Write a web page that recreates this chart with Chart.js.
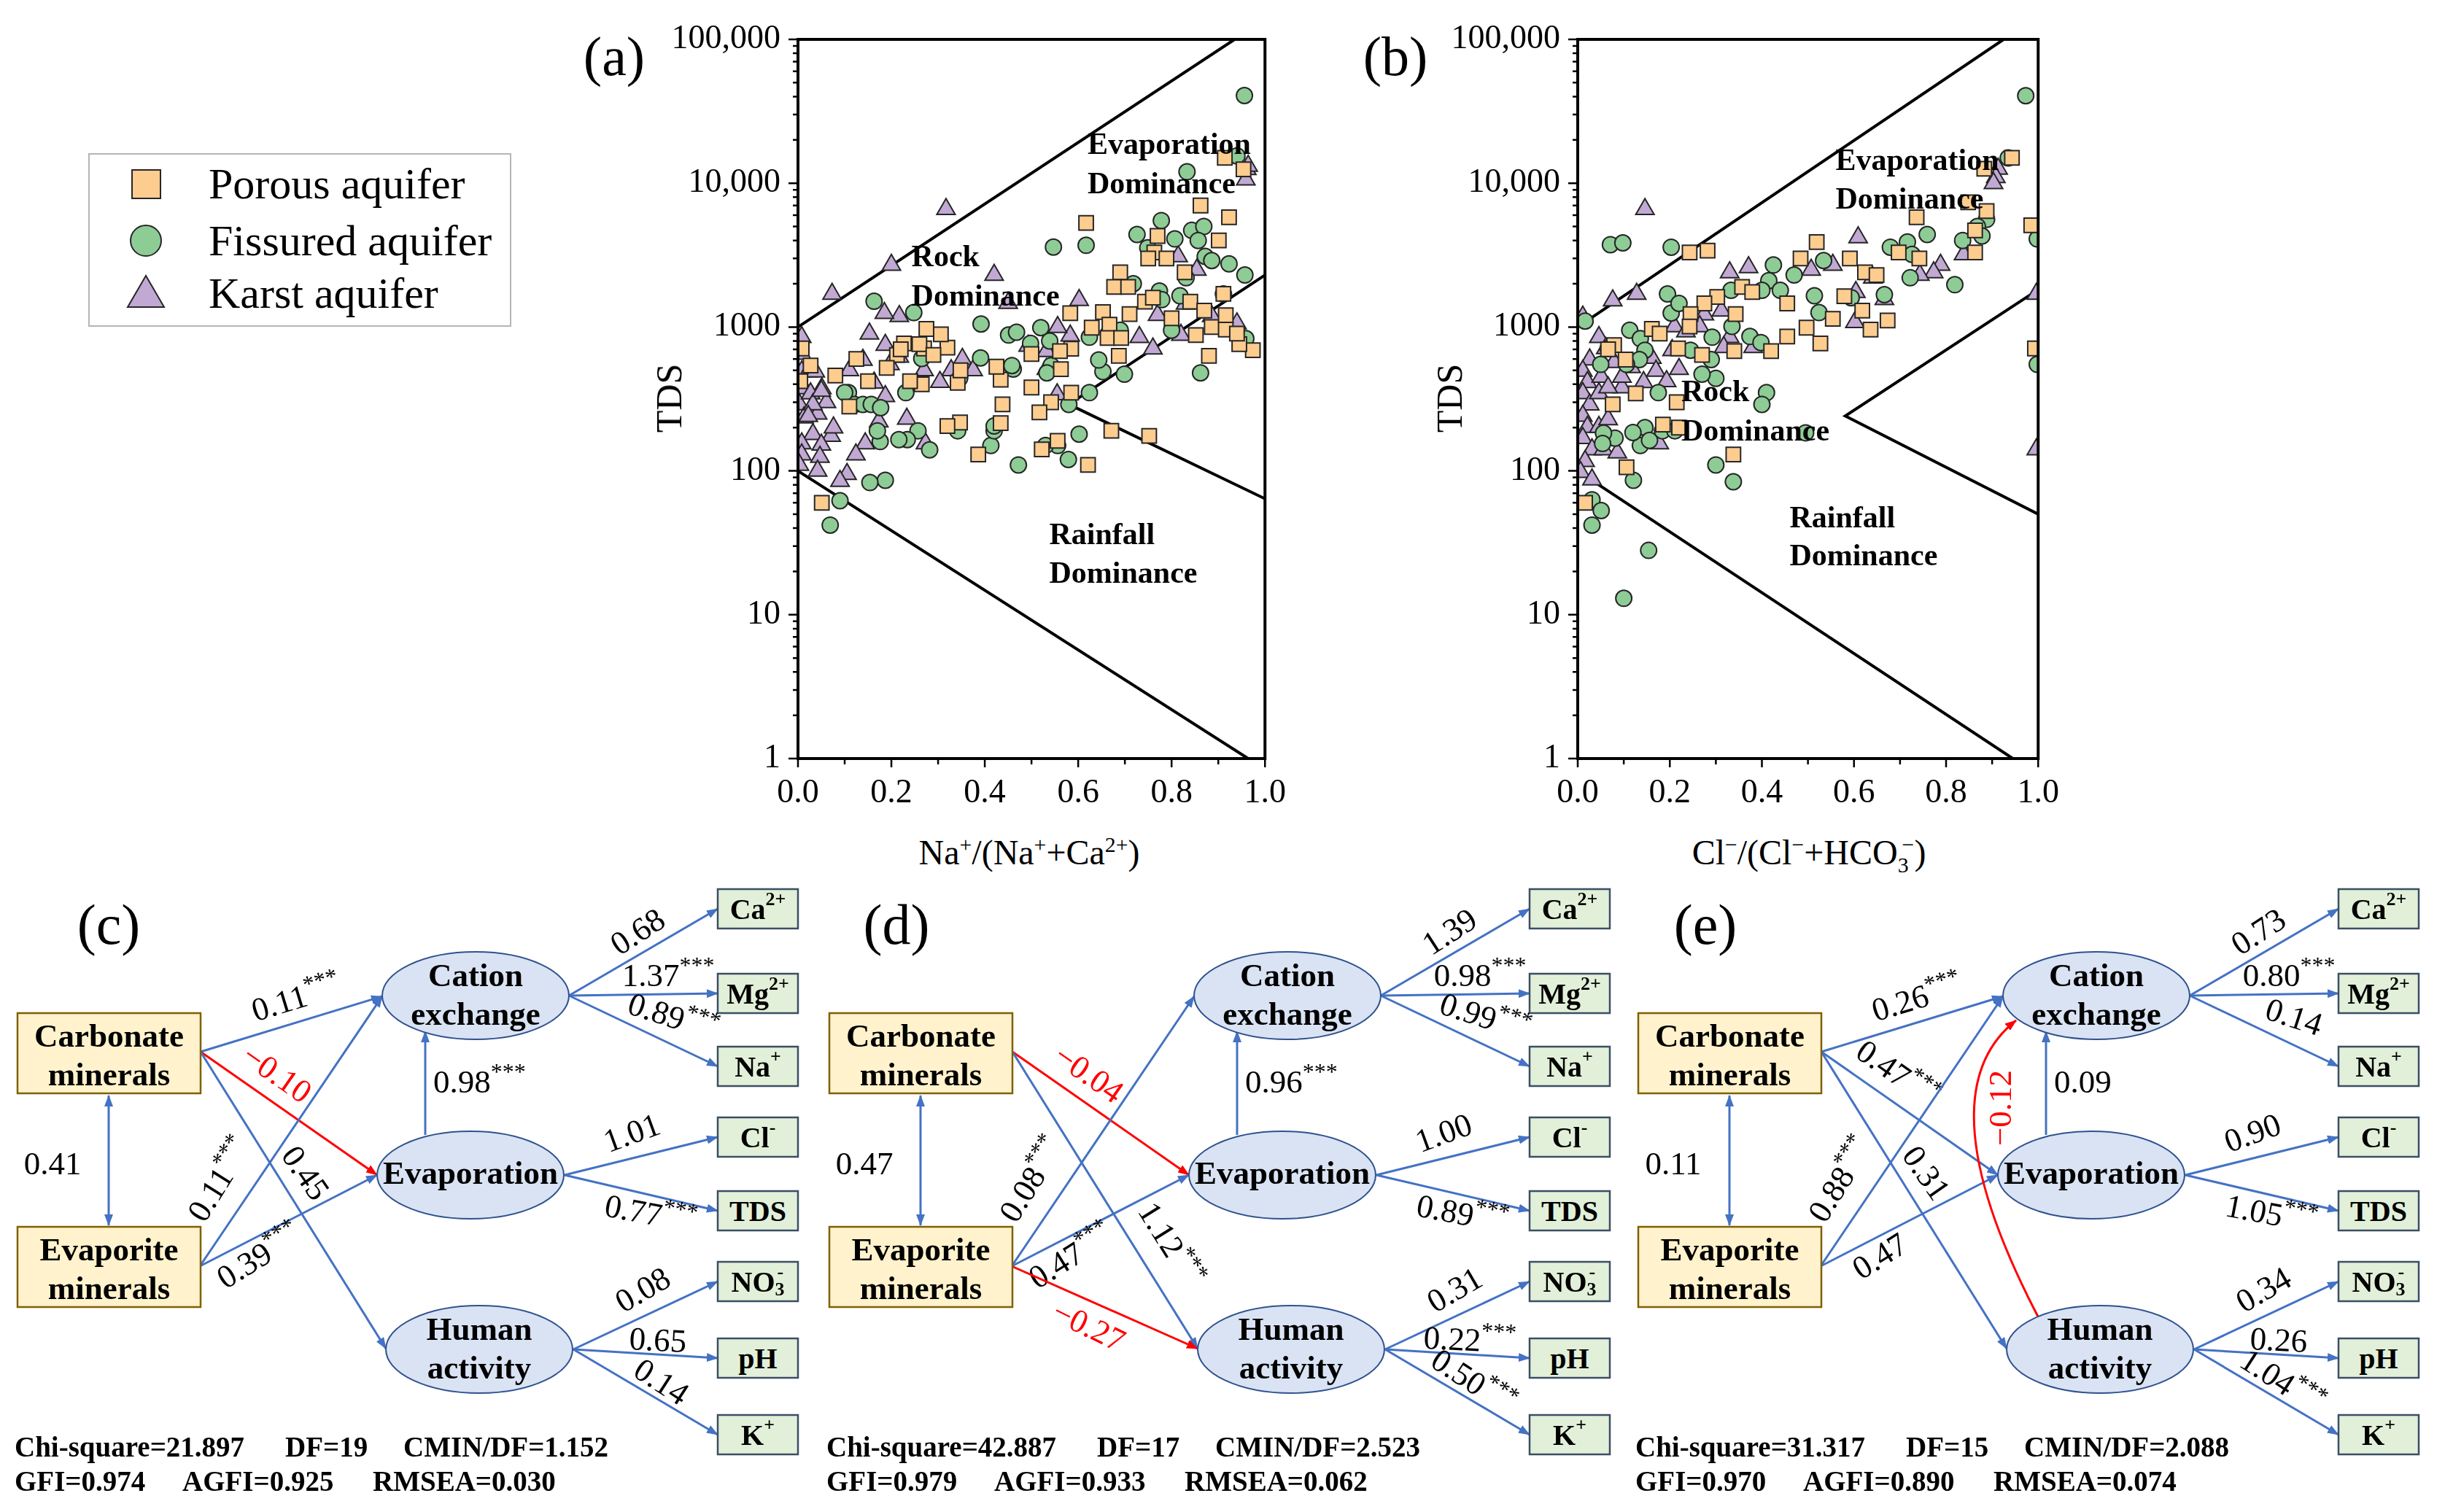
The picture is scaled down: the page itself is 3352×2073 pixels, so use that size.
<!DOCTYPE html>
<html>
<head>
<meta charset="utf-8">
<script src="https://cdn.jsdelivr.net/npm/chart.js@4.4.1/dist/chart.umd.min.js"></script>
<style>
html, body { margin: 0; padding: 0; background: #fff; }
#page { position: relative; width: 3352px; height: 2073px; overflow: hidden; background: #fff;
        font-family: 'Liberation Serif', 'Times New Roman', serif; }
canvas { position: absolute; top: 0; }
.t { position: absolute; white-space: nowrap; color: #000; line-height: 1; transform: translate(-50%, -50%); }
.t sup, .t sub { font-size: 62%; line-height: 0; }
</style>
</head>
<body>
<div id="page">
  <canvas id="gibbsA"></canvas>
  <canvas id="gibbsB"></canvas>
  <div class="t" style="left:842px;top:77px;font-size:76px">(a)</div>
  <div class="t" style="left:1913px;top:77px;font-size:76px">(b)</div>
  <div class="t" style="left:917px;top:546px;font-size:50px;transform:translate(-50%,-50%) rotate(-90deg)">TDS</div>
  <div class="t" style="left:1987px;top:546px;font-size:50px;transform:translate(-50%,-50%) rotate(-90deg)">TDS</div>
  <div class="t" style="left:1411px;top:1169px;font-size:48px">Na<sup>+</sup>/(Na<sup>+</sup>+Ca<sup>2+</sup>)</div>
  <div class="t" style="left:2480px;top:1169px;font-size:48px">Cl<sup>&minus;</sup>/(Cl<sup>&minus;</sup>+HCO<sub>3</sub><sup style="margin-left:-0.3em">&minus;</sup>)</div>
  <svg id="sem" width="3352" height="2073" style="position:absolute;left:0;top:0"
       font-family="'Liberation Serif', 'Times New Roman', serif"></svg>
</div>
<script>
// ---------- Gibbs diagram data (x = ratio, y = TDS) ----------
const xMajorTicks = [0, 0.2, 0.4, 0.6, 0.8, 1.0];
const xMinorTicks = [0.1, 0.3, 0.5, 0.7, 0.9];
const yMajorTicks = [1, 10, 100, 1000, 10000, 100000];
const yMinorSteps = [2, 3, 4, 5, 6, 7, 8, 9];

const seriesNames = ['Porous aquifer', 'Fissured aquifer', 'Karst aquifer'];

// (a) Na+/(Na+ + Ca2+)
const porousA = [[0.914,15000],[0.954,12500],[0.862,7000],[0.923,5800],[0.617,5300],[0.901,4000],[0.77,4300],[0.763,3300],[0.75,3000],[0.789,3000],[0.828,2400],[0.69,2400],[0.677,1900],[0.707,1900],[0.743,1500],[0.76,1600],[0.911,1700],[0.653,1270],[0.583,1250],[0.629,990],[0.667,1040],[0.663,840],[0.692,840],[0.585,707],[0.561,680],[0.563,510],[0.50,380],[0.542,300],[0.517,255],[0.585,350],[0.687,630],[0.88,630],[0.852,880],[0.886,1000],[0.916,960],[0.974,690],[0.945,760],[0.916,1210],[0.621,110],[0.671,190],[0.752,175],[0.556,162],[0.522,141],[0.438,290],[0.434,430],[0.425,530],[0.434,215],[0.347,217],[0.32,205],[0.386,130],[0.342,410],[0.348,500],[0.32,720],[0.306,890],[0.275,970],[0.27,710],[0.265,400],[0.227,770],[0.212,640],[0.125,600],[0.11,280],[0.08,460],[0.051,60],[0.008,710],[0.027,540],[0.22,700],[0.26,760],[0.29,640],[0.24,420],[0.15,420],[0.19,520],[0.005,420],[0.71,1230],[0.8,1150],[0.84,1500],[0.87,1300],[0.94,900],[0.5,650]];
const fissuredA = [[0.956,40700],[0.94,15500],[0.833,12000],[0.547,3600],[0.617,3700],[0.726,4400],[0.749,3560],[0.778,5500],[0.807,4100],[0.843,4700],[0.869,5000],[0.857,4000],[0.872,3100],[0.886,2900],[0.923,2750],[0.957,2300],[0.831,2200],[0.718,2000],[0.774,1780],[0.818,1650],[0.779,1550],[0.911,1700],[0.80,950],[0.959,830],[0.862,480],[0.699,470],[0.653,490],[0.624,350],[0.58,290],[0.602,180],[0.579,120],[0.556,150],[0.53,150],[0.472,110],[0.413,150],[0.42,190],[0.42,205],[0.342,190],[0.257,190],[0.234,165],[0.216,165],[0.187,86],[0.154,83],[0.176,160],[0.17,190],[0.09,62],[0.069,42],[0.108,350],[0.231,350],[0.265,605],[0.391,610],[0.392,1050],[0.451,880],[0.461,510],[0.458,540],[0.498,770],[0.52,990],[0.539,800],[0.624,850],[0.69,950],[0.644,590],[0.542,540],[0.533,480],[0.346,440],[0.163,1510],[0.248,1260],[0.121,290],[0.139,290],[0.157,290],[0.177,275],[0.282,140],[0.10,350],[0.468,920]];
const karstA = [[0.317,6600],[0.20,2700],[0.42,2300],[0.073,1700],[0.602,1540],[0.961,12500],[0.959,10600],[0.964,13200],[0.814,3100],[0.854,2500],[0.83,1450],[0.886,1190],[0.94,1060],[0.77,1210],[0.76,707],[0.731,850],[0.82,880],[0.667,1010],[0.583,870],[0.556,1000],[0.493,740],[0.532,680],[0.532,510],[0.555,340],[0.45,1470],[0.352,600],[0.375,500],[0.328,500],[0.304,415],[0.27,500],[0.255,400],[0.233,230],[0.273,155],[0.217,1190],[0.185,1250],[0.153,900],[0.11,500],[0.139,590],[0.163,410],[0.187,750],[0.197,550],[0.217,620],[0.187,330],[0.173,220],[0.144,155],[0.124,130],[0.105,95],[0.09,85],[0.071,175],[0.076,200],[0.051,375],[0.061,300],[0.042,250],[0.032,180],[0.05,152],[0.047,125],[0.042,100],[0.008,850],[0.008,650],[0.008,490],[0.013,375],[0.003,290],[0.013,235],[0.008,155],[0.008,130],[0.003,110],[0.022,490],[0.027,345],[0.032,290],[0.022,240],[0.037,490],[0.05,360]];
const upperA = [[0, 1000], [0.935, 100000]];
const lowerA = [[0, 100], [0.964, 1]];
const innerA = [[1, 2300], [0.58, 290], [1, 64]];

// (b) Cl-/(Cl- + HCO3-)
const porousB = [[0.943,15000],[0.883,12600],[0.848,7360],[0.888,6400],[0.736,5800],[0.985,5100],[0.863,4700],[0.863,3300],[0.519,3900],[0.484,3000],[0.591,3000],[0.624,2400],[0.649,2300],[0.742,3000],[0.697,3300],[0.282,3400],[0.243,3300],[0.579,1640],[0.618,1300],[0.673,1110],[0.636,960],[0.554,1140],[0.455,1460],[0.455,860],[0.497,990],[0.527,770],[0.357,1900],[0.379,1750],[0.303,1620],[0.275,1460],[0.343,1230],[0.245,1230],[0.243,1010],[0.161,970],[0.178,900],[0.218,710],[0.27,640],[0.34,680],[0.42,680],[0.079,750],[0.066,700],[0.104,594],[0.126,346],[0.076,290],[0.215,300],[0.185,210],[0.22,200],[0.106,106],[0.338,130],[0.016,60],[0.993,710]];
const fissuredB = [[0.973,40600],[0.935,15000],[0.888,5600],[0.868,5000],[0.878,4300],[0.836,4000],[0.759,4400],[0.716,3900],[0.726,3200],[0.679,3590],[0.722,2200],[0.819,1970],[0.534,2900],[0.47,2300],[0.425,2700],[0.415,2100],[0.44,1800],[0.514,1650],[0.524,1260],[0.594,1600],[0.666,1680],[0.40,1800],[0.333,1800],[0.195,1700],[0.203,1250],[0.22,1460],[0.203,3590],[0.071,3740],[0.098,3850],[0.016,1100],[0.113,950],[0.136,830],[0.146,690],[0.134,594],[0.05,550],[0.245,690],[0.29,594],[0.30,440],[0.292,850],[0.335,1010],[0.374,860],[0.398,780],[0.41,350],[0.40,290],[0.27,470],[0.175,350],[0.146,200],[0.136,150],[0.156,163],[0.12,185],[0.184,190],[0.211,190],[0.081,169],[0.056,183],[0.054,155],[0.30,110],[0.121,86],[0.338,84],[0.495,184],[0.031,63],[0.051,53],[0.031,42],[0.154,28],[0.10,13],[0.998,4100],[0.998,550],[0.066,710],[0.106,550]];
const karstB = [[0.146,6600],[0.609,4200],[0.838,3200],[0.788,2700],[0.773,2400],[0.743,2300],[0.554,2700],[0.507,2500],[0.371,2600],[0.33,2400],[0.913,12600],[0.908,11000],[0.903,10000],[0.641,2200],[0.666,1560],[0.604,1750],[0.602,1080],[0.996,1700],[0.996,141],[0.312,1300],[0.275,1220],[0.381,725],[0.33,850],[0.317,725],[0.128,1700],[0.076,1530],[0.011,1180],[0.046,850],[0.061,711],[0.079,570],[0.116,525],[0.161,610],[0.205,690],[0.21,1010],[0.235,930],[0.265,1010],[0.17,496],[0.143,414],[0.193,420],[0.22,510],[0.096,380],[0.026,594],[0.011,496],[0.021,414],[0.011,346],[0.026,289],[0.011,241],[0.021,202],[0.011,169],[0.031,141],[0.016,117],[0.006,98],[0.031,87],[0.046,202],[0.066,228],[0.056,141],[0.086,134],[0.177,155],[0.051,450],[0.046,346],[0.066,380],[0.096,450]];
const upperB = [[0, 1000], [0.925, 100000]];
const lowerB = [[0, 100], [0.945, 1]];
const innerB = [[1, 1820], [0.581, 241], [1, 50]];

// region names, anchored at (x, TDS)
const regionsA = [['Evaporation', 0.62, 18200], ['Dominance', 0.62, 9700], ['Rock', 0.243, 3010],
                  ['Dominance', 0.243, 1600], ['Rainfall', 0.538, 35], ['Dominance', 0.538, 19]];
const regionsB = [['Evaporation', 0.56, 14000], ['Dominance', 0.56, 7600], ['Rock', 0.225, 345],
                  ['Dominance', 0.225, 185], ['Rainfall', 0.46, 46], ['Dominance', 0.46, 25]];

const ORANGE = '#FDCC8F', GREEN = '#8ECC96', PURPLE = '#C1A9D4', EDGE = '#262626';
const tickFont = { family: "'Liberation Serif', serif", size: 46 };

const pts = arr => arr.map(p => ({ x: p[0], y: p[1] }));

const gibbsFrame = {
  id: 'gibbsFrame',
  afterDatasetsDraw(chart, args, opts) {
    const { ctx, chartArea: a, scales: { x, y } } = chart;
    ctx.save();
    ctx.font = "bold 42px 'Liberation Serif', serif";
    ctx.fillStyle = '#000';
    ctx.textBaseline = 'middle';
    opts.regions.forEach(r => ctx.fillText(r[0], x.getPixelForValue(r[1]), y.getPixelForValue(r[2])));
    ctx.strokeStyle = '#000';
    ctx.lineWidth = 4;
    ctx.strokeRect(a.left, a.top, a.right - a.left, a.bottom - a.top);
    ctx.lineWidth = 2.5;
    ctx.beginPath();
    yMajorTicks.forEach(v => { const py = y.getPixelForValue(v); ctx.moveTo(a.left - 13, py); ctx.lineTo(a.left, py); });
    yMajorTicks.slice(0, -1).forEach(d => yMinorSteps.forEach(m => {
      const py = y.getPixelForValue(d * m); ctx.moveTo(a.left - 7, py); ctx.lineTo(a.left, py);
    }));
    xMajorTicks.forEach(v => { const px = x.getPixelForValue(v); ctx.moveTo(px, a.bottom); ctx.lineTo(px, a.bottom + 12); });
    xMinorTicks.forEach(v => { const px = x.getPixelForValue(v); ctx.moveTo(px, a.bottom); ctx.lineTo(px, a.bottom + 8); });
    ctx.stroke();
    ctx.restore();
  }
};

function makeGibbs(id, plotLeft, plotRight, porous, fissured, karst, upper, lower, inner, regions) {
  const yAxisWidth = 313;
  const canvas = document.getElementById(id);
  const left = plotLeft - yAxisWidth;
  canvas.style.left = left + 'px';
  canvas.width = plotRight - left + 40;
  canvas.height = 1120;
  const boundary = data => ({ type: 'line', data: pts(data), showLine: true, borderColor: '#000',
                              borderWidth: 4, pointRadius: 0, fill: false, tension: 0 });
  return new Chart(canvas, {
    type: 'scatter',
    data: {
      datasets: [
        { label: seriesNames[0], data: pts(porous), pointStyle: 'rect', pointRadius: 14,
          backgroundColor: ORANGE, borderColor: EDGE, borderWidth: 2 },
        { label: seriesNames[1], data: pts(fissured), pointStyle: 'circle', pointRadius: 11,
          backgroundColor: GREEN, borderColor: EDGE, borderWidth: 2 },
        { label: seriesNames[2], data: pts(karst), pointStyle: 'triangle', pointRadius: 14.5,
          backgroundColor: PURPLE, borderColor: EDGE, borderWidth: 2 },
        boundary(upper), boundary(lower), boundary(inner)
      ]
    },
    options: {
      responsive: false, animation: false, devicePixelRatio: 1,
      layout: { padding: { top: 54, right: 40, left: 0, bottom: 0 } },
      plugins: { legend: { display: false }, tooltip: { enabled: false }, gibbsFrame: { regions } },
      scales: {
        x: {
          type: 'linear', min: 0, max: 1,
          afterBuildTicks: s => { s.ticks = xMajorTicks.map(v => ({ value: v })); },
          afterFit: s => { s.height = 80; },
          ticks: { font: tickFont, color: '#000', padding: 20, maxRotation: 0, callback: v => v.toFixed(1) },
          grid: { display: false, drawTicks: false }, border: { display: false }
        },
        y: {
          type: 'logarithmic', min: 1, max: 100000,
          afterBuildTicks: s => { s.ticks = yMajorTicks.map(v => ({ value: v })); },
          afterFit: s => { s.width = yAxisWidth; },
          ticks: { font: tickFont, color: '#000', padding: 24,
                   callback: v => v >= 10000 ? v.toLocaleString('en-US') : String(v) },
          grid: { display: false, drawTicks: false }, border: { display: false }
        }
      }
    },
    plugins: [gibbsFrame]
  });
}

makeGibbs('gibbsA', 1094, 1743, porousA, fissuredA, karstA, upperA, lowerA, innerA, regionsA);
makeGibbs('gibbsB', 2163, 2803, porousB, fissuredB, karstB, upperB, lowerB, innerB, regionsB);

// ---------- SEM path diagrams (c), (d), (e) ----------
const panelTags = ['(c)', '(d)', '(e)'];
const panelTagX = [149, 1229, 2338];
const panelShift = [0, 1113, 2222];
const covariances = ['0.41', '0.47', '0.11'];
const structural = [
  [['carb', 'cat', '0.11***'], ['carb', 'eva', '\u22120.10'], ['carb', 'hum', '0.45'],
   ['evapo', 'cat', '0.11***'], ['evapo', 'eva', '0.39***'], ['eva', 'cat', '0.98***']],
  [['carb', 'eva', '\u22120.04'], ['carb', 'hum', '1.12***'], ['evapo', 'cat', '0.08***'],
   ['evapo', 'eva', '0.47***'], ['evapo', 'hum', '\u22120.27'], ['eva', 'cat', '0.96***']],
  [['carb', 'cat', '0.26***'], ['carb', 'eva', '0.47***'], ['carb', 'hum', '0.31'],
   ['evapo', 'cat', '0.88***'], ['evapo', 'eva', '0.47'], ['eva', 'cat', '0.09'], ['hum', 'cat', '\u22120.12']]
];
const loadings = [
  ['0.68', '1.37***', '0.89***', '1.01', '0.77***', '0.08', '0.65', '0.14'],
  ['1.39', '0.98***', '0.99***', '1.00', '0.89***', '0.31', '0.22***', '0.50***'],
  ['0.73', '0.80***', '0.14', '0.90', '1.05***', '0.34', '0.26', '1.04***']
];
const fitStats = [
  ['Chi-square=21.897', 'DF=19', 'CMIN/DF=1.152', 'GFI=0.974', 'AGFI=0.925', 'RMSEA=0.030'],
  ['Chi-square=42.887', 'DF=17', 'CMIN/DF=2.523', 'GFI=0.979', 'AGFI=0.933', 'RMSEA=0.062'],
  ['Chi-square=31.317', 'DF=15', 'CMIN/DF=2.088', 'GFI=0.970', 'AGFI=0.890', 'RMSEA=0.074']
];
const indicators = [['Ca', '2+'], ['Mg', '2+'], ['Na', '+'], ['Cl', '-'], ['TDS', ''], ['NO', '-', '3'], ['pH', ''], ['K', '+']];

// layout (panel-relative pixels)
const BLUE = '#4472C4', RED = '#FF0000';
const L = {
  carbBox: [24, 1389, 251, 110], evapoBox: [24, 1682, 251, 110],
  latent: { cat: [652, 1365, ['Cation', 'exchange']], eva: [645, 1611, ['Evaporation']], hum: [657, 1850, ['Human', 'activity']] },
  from: { carb: [275, 1442], evapo: [274, 1736], eva: [583, 1556] },
  to: { cat: [524, 1366], eva: [517, 1611], hum: [529, 1849], catFromEva: [583, 1414] },
  out: { cat: [780, 1365], eva: [774, 1611], hum: [786, 1850] },
  indBoxX: 984, indBoxW: 110, indBoxH: 54,
  indY: [1246, 1362, 1462, 1559, 1660, 1757, 1862, 1967],
  indFrom: ['cat', 'cat', 'cat', 'eva', 'eva', 'hum', 'hum', 'hum'],
  indLabel: [[874, 1277, -33], [916, 1337, 0], [923, 1394, 18], [866, 1553, -20], [892, 1664, 11], [881, 1768, -30], [902, 1837, 3], [907, 1894, 33]],
  pathLabel: { 'carb-cat': [406, 1368, -17], 'carb-eva': [380, 1472, 35], 'carb-hum': [419, 1608, 55],
               'carb-hum-d': [492, 1706, 58], 'evapo-cat': [301, 1617, -58], 'evapo-eva': [355, 1722, -32],
               'evapo-hum': [380, 1818, 26], 'hum-cat': [520, 1519, -90] },
  evaCatLabel: [594, 1483],
  statsX: [[20, 391, 553], [20, 250, 511]], statsY: [1997, 2044]
};

const NS = 'http://www.w3.org/2000/svg';
const svg = document.getElementById('sem');
function el(tag, attrs, parent, text) {
  const e = document.createElementNS(NS, tag);
  for (const k in attrs) e.setAttribute(k, attrs[k]);
  if (text !== undefined) e.textContent = text;
  (parent || svg).appendChild(e);
  return e;
}

const defs = el('defs', {});
[['arrBlue', BLUE], ['arrRed', RED]].forEach(([id, col]) => {
  const m = el('marker', { id, viewBox: '0 0 16 12', refX: 15, refY: 6, markerWidth: 16, markerHeight: 12,
                           markerUnits: 'userSpaceOnUse', orient: 'auto-start-reverse' }, defs);
  el('path', { d: 'M0,0 L16,6 L0,12 Z', fill: col }, m);
});

function arrow(g, x1, y1, x2, y2, col, both) {
  const a = { x1, y1, x2, y2, stroke: col, 'stroke-width': 3,
              'marker-end': `url(#${col === RED ? 'arrRed' : 'arrBlue'})` };
  if (both) a['marker-start'] = 'url(#arrBlue)';
  el('line', a, g);
}

function coef(g, str, x, y, angle, anchor) {
  const neg = str.charAt(0) === '\u2212';
  const num = str.split('*')[0];
  const stars = str.slice(num.length);
  const t = el('text', { x, y, 'font-size': 45, 'text-anchor': anchor || 'middle', 'dominant-baseline': 'central',
                         fill: neg ? RED : '#000', transform: `rotate(${angle} ${x} ${y})` }, g);
  el('tspan', {}, t, num);
  if (stars) el('tspan', { 'font-size': 32, dy: -14 }, t, stars);
}

panelTags.forEach((tag, p) => {
  const g = el('g', { transform: `translate(${panelShift[p]},0)` });
  el('text', { x: panelTagX[p] - panelShift[p], y: 1267, 'font-size': 78, 'text-anchor': 'middle',
               'dominant-baseline': 'central' }, g, tag);

  // covariance between the two mineral groups
  arrow(g, 149, 1502, 149, 1680, BLUE, true);
  coef(g, covariances[p], 72, 1595, 0);

  // structural paths
  structural[p].forEach(([a, b, val]) => {
    const col = val.charAt(0) === '\u2212' ? RED : BLUE;
    if (a === 'hum') {
      el('path', { d: 'M572,1805 Q413,1500 542,1399', fill: 'none', stroke: col, 'stroke-width': 3,
                   'marker-end': 'url(#arrRed)' }, g);
    } else {
      const s = L.from[a];
      const e = a === 'eva' ? L.to.catFromEva : L.to[b];
      arrow(g, s[0], s[1], e[0], e[1], col);
    }
    if (a === 'eva') {
      coef(g, val, L.evaCatLabel[0], L.evaCatLabel[1], 0, 'start');
    } else {
      let key = a + '-' + b;
      if (key === 'carb-hum' && p === 1) key = 'carb-hum-d';
      const lp = L.pathLabel[key];
      coef(g, val, lp[0], lp[1], lp[2]);
    }
  });

  // measurement paths to indicators
  indicators.forEach((ind, i) => {
    const s = L.out[L.indFrom[i]];
    arrow(g, s[0], s[1], L.indBoxX, L.indY[i], BLUE);
  });

  // observed mineral boxes
  [[L.carbBox, 'Carbonate'], [L.evapoBox, 'Evaporite']].forEach(([b, name]) => {
    el('rect', { x: b[0], y: b[1], width: b[2], height: b[3], fill: '#FFF2CC', stroke: '#7F6000', 'stroke-width': 2.5 }, g);
    const cx = b[0] + b[2] / 2;
    el('text', { x: cx, y: b[1] + 31, 'font-size': 45, 'font-weight': 'bold', 'text-anchor': 'middle', 'dominant-baseline': 'central' }, g, name);
    el('text', { x: cx, y: b[1] + 84, 'font-size': 45, 'font-weight': 'bold', 'text-anchor': 'middle', 'dominant-baseline': 'central' }, g, 'minerals');
  });

  // latent variables
  Object.values(L.latent).forEach(([cx, cy, lines]) => {
    el('ellipse', { cx, cy, rx: 128, ry: 60, fill: '#DAE3F3', stroke: '#2F528F', 'stroke-width': 2 }, g);
    lines.forEach((ln, k) => {
      const yy = lines.length === 1 ? cy - 3 : cy - 28 + k * 53;
      el('text', { x: cx, y: yy, 'font-size': 45, 'font-weight': 'bold', 'text-anchor': 'middle', 'dominant-baseline': 'central' }, g, ln);
    });
  });

  // indicator boxes and their loadings
  indicators.forEach((ind, i) => {
    const y = L.indY[i];
    el('rect', { x: L.indBoxX, y: y - L.indBoxH / 2, width: L.indBoxW, height: L.indBoxH,
                 fill: '#E2F0D9', stroke: '#3B4E66', 'stroke-width': 2.5 }, g);
    const t = el('text', { x: L.indBoxX + L.indBoxW / 2, y, 'font-size': 40, 'font-weight': 'bold',
                           'text-anchor': 'middle', 'dominant-baseline': 'central' }, g);
    el('tspan', {}, t, ind[0]);
    if (ind[2]) {
      el('tspan', { 'font-size': 26, dy: 10 }, t, ind[2]);
      el('tspan', { 'font-size': 26, dx: -10, dy: -24 }, t, ind[1]);
    } else if (ind[1]) {
      el('tspan', { 'font-size': 26, dy: -14 }, t, ind[1]);
    }
    const lp = L.indLabel[i];
    coef(g, loadings[p][i], lp[0], lp[1], lp[2]);
  });

  // model fit statistics
  fitStats[p].forEach((s, k) => {
    const row = k < 3 ? 0 : 1;
    el('text', { x: L.statsX[row][k % 3], y: L.statsY[row], 'font-size': 39, 'font-weight': 'bold' }, g, s);
  });
});

// ---------- legend ----------
const lg = el('g', {});
el('rect', { x: 122, y: 211, width: 578, height: 236, fill: '#fff', stroke: '#b5b5b5', 'stroke-width': 2 }, lg);
el('rect', { x: 181, y: 233, width: 39, height: 39, fill: ORANGE, stroke: EDGE, 'stroke-width': 2 }, lg);
el('circle', { cx: 200, cy: 330, r: 21, fill: GREEN, stroke: EDGE, 'stroke-width': 2 }, lg);
el('polygon', { points: '200,378 175,421 225,421', fill: PURPLE, stroke: EDGE, 'stroke-width': 2 }, lg);
[252, 330, 402].forEach((y, i) =>
  el('text', { x: 286, y, 'font-size': 60, 'dominant-baseline': 'central' }, lg, seriesNames[i]));
</script>
</body>
</html>
